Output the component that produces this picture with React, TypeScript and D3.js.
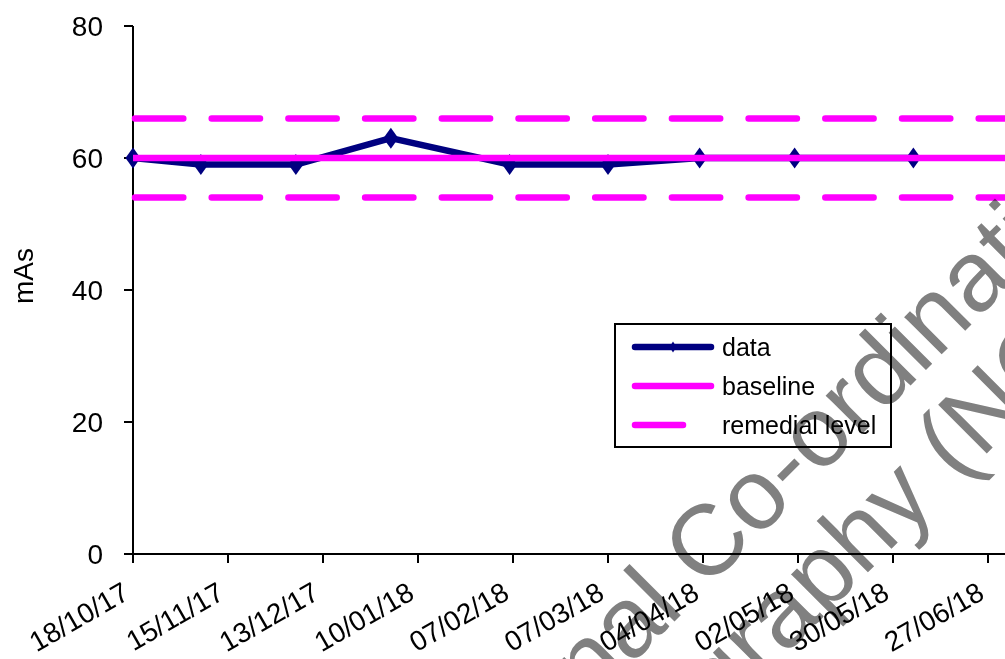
import React from "react";
import * as d3 from "d3";

const dataDates = ["2017-10-18", "2017-11-07", "2017-12-05", "2018-01-02", "2018-02-06", "2018-03-07", "2018-04-03", "2018-05-01", "2018-06-05"];
const dataValues = [60, 59, 59, 63, 59, 59, 60, 60, 60];
const baselineValue = 60;
const remedialValues = [66, 54];
const xTickDates = ["2017-10-18", "2017-11-15", "2017-12-13", "2018-01-10", "2018-02-07", "2018-03-07", "2018-04-04", "2018-05-02", "2018-05-30", "2018-06-27"];
const yTicks = [0, 20, 40, 60, 80];
const legendLabels = ["data", "baseline", "remedial level"];
const yTitle = "mAs";
const watermark1a = "National";
const watermark1b = "Co-ordinating Centre for the";
const watermark2a = "Physics of Mammography";
const watermark2b = "(NCCPM)";

const W = 1005, H = 659;
const FONT = "Arial, 'Liberation Sans', sans-serif";
const NAVY = "#000080";
const MAG = "#FF00FF";

export default function App() {
  const parse = (s: string) => new Date(s + "T00:00:00Z");
  const start = parse("2017-10-18");
  const end = parse("2018-07-25");
  const x = d3.scaleUtc().domain([start, end]).range([133, 133 + 280 * (95 / 28)]);
  const y = d3.scaleLinear().domain([0, 80]).range([554, 26]);
  const xEnd = x(end);

  const pts = dataDates.map((d, i) => [x(parse(d)), y(dataValues[i])] as [number, number]);
  const line = d3.line()(pts) || "";
  const diamond = (cx: number, cy: number, hw: number, hh: number) =>
    `M${cx},${cy - hh}L${cx + hw},${cy}L${cx},${cy + hh}L${cx - hw},${cy}Z`;
  const fmt = d3.utcFormat("%d/%m/%y");
  const wfs = 100;
  const sp = 0.278 * wfs;

  return (
    <svg width={W} height={H} style={{ position: "absolute", left: 0, top: 0, background: "#fff" }} fontFamily={FONT}>
      <rect x={0} y={0} width={W} height={H} fill="#fff" />
      {/* axes */}
      <line x1={133} x2={133} y1={y(80)} y2={y(0)} stroke="#000" strokeWidth={2} />
      <line x1={133} x2={xEnd} y1={y(0)} y2={y(0)} stroke="#000" strokeWidth={2} />
      {yTicks.map((t) => (
        <g key={t}>
          <line x1={124} x2={133} y1={y(t)} y2={y(t)} stroke="#000" strokeWidth={2} />
          <text x={103} y={y(t)} textAnchor="end" dominantBaseline="central" fontSize={28} fill="#000">{t}</text>
        </g>
      ))}
      {xTickDates.map((d) => {
        const xx = x(parse(d));
        return (
          <g key={d}>
            <line x1={xx} x2={xx} y1={y(0)} y2={y(0) + 9} stroke="#000" strokeWidth={2} />
            <text transform={`translate(${xx - 2},${598}) rotate(-30)`} textAnchor="end" fontSize={28} fill="#000">{fmt(parse(d))}</text>
          </g>
        );
      })}
      <text transform={`translate(33,276) rotate(-90)`} textAnchor="middle" fontSize={28} fill="#000">{yTitle}</text>

      {/* data */}
      <path d={line} fill="none" stroke={NAVY} strokeWidth={6.5} strokeLinejoin="round" />
      {pts.map((p, i) => (
        <path key={i} d={diamond(p[0], p[1], 7.5, 10.5)} fill={NAVY} />
      ))}
      {/* baseline */}
      <line x1={133} x2={xEnd} y1={y(baselineValue)} y2={y(baselineValue)} stroke={MAG} strokeWidth={6.5} />
      {remedialValues.map((v) => (
        <line key={v} x1={133} x2={xEnd} y1={y(v)} y2={y(v)} stroke={MAG} strokeWidth={6.5}
          strokeDasharray="48.3 28.4" strokeDashoffset={-2} strokeLinecap="round" />
      ))}

      {/* legend */}
      <rect x={615} y={324} width={276} height={123} fill="#fff" stroke="#000" strokeWidth={2} />
      <line x1={635} x2={711} y1={347} y2={347} stroke={NAVY} strokeWidth={6.5} strokeLinecap="round" />
      <path d={diamond(673, 347, 3.5, 5.5)} fill={NAVY} />
      <line x1={635} x2={711} y1={386} y2={386} stroke={MAG} strokeWidth={6.5} strokeLinecap="round" />
      <line x1={635} x2={683} y1={425} y2={425} stroke={MAG} strokeWidth={6.5} strokeLinecap="round" />
      {legendLabels.map((l, i) => (
        <text key={l} x={722} y={347 + i * 39} dominantBaseline="central" fontSize={25} fill="#000">{l}</text>
      ))}

      {/* watermark */}
      <g transform="translate(705,591) rotate(-45)" fontSize={wfs} fill="#808080" style={{ mixBlendMode: "multiply" }}>
        <text x={-sp} y={0} textAnchor="end">{watermark1a}</text>
        <text x={0} y={0} textAnchor="start">{watermark1b}</text>
        <text x={255 - sp} y={102} textAnchor="end">{watermark2a}</text>
        <text x={255} y={102} textAnchor="start">{watermark2b}</text>
      </g>
    </svg>
  );
}
